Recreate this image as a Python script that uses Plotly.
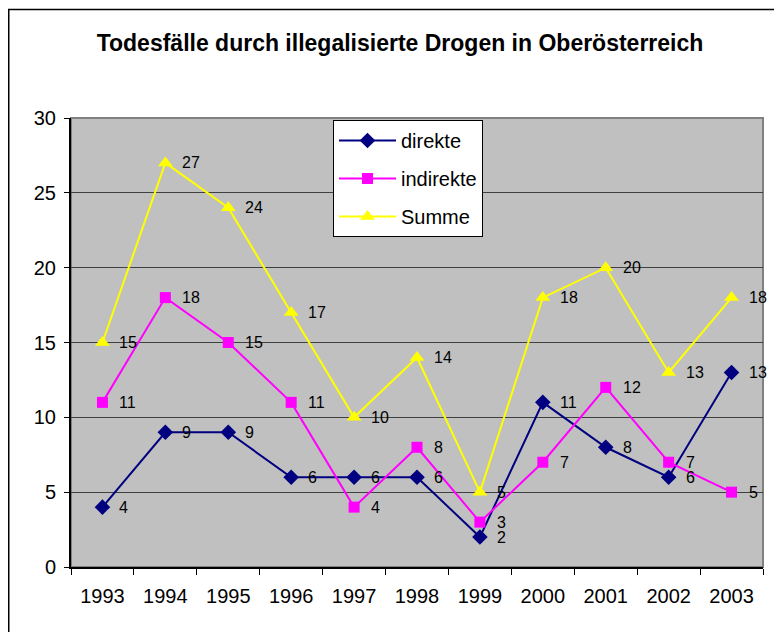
import plotly.graph_objects as go

years = ["1993", "1994", "1995", "1996", "1997", "1998", "1999", "2000", "2001", "2002", "2003"]
direkte = [4, 9, 9, 6, 6, 6, 2, 11, 8, 6, 13]
indirekte = [11, 18, 15, 11, 4, 8, 3, 7, 12, 7, 5]
summe = [15, 27, 24, 17, 10, 14, 5, 18, 20, 13, 18]

series = [
    ("direkte", direkte, "#000080", "diamond", 12),
    ("indirekte", indirekte, "#FF00FF", "square", 11),
    ("Summe", summe, "#FFFF00", "triangle-up", 13),
]

FONT = "Liberation Sans, Arial, sans-serif"
fig = go.Figure()
annotations = []
for name, vals, color, sym, size in series:
    fig.add_trace(go.Scatter(
        x=years, y=vals, name=name, mode="lines+markers",
        legendgroup=name,
        line=dict(color=color, width=2),
        marker=dict(symbol=sym, size=size, color=color, line=dict(width=0)),
    ))
    for i, v in enumerate(vals):
        annotations.append(dict(
            x=i, y=v, xref="x", yref="y", text=str(v), showarrow=False,
            xanchor="left", yanchor="middle",
            xshift=15, font=dict(family=FONT, size=16, color="black"),
        ))

# page has an 8px body margin; figure coordinates = page coordinates - 8
OFF = 8
W, H = 782 - OFF, 632 - OFF
L = 71 - OFF
T = 118 - OFF
R = W - (763 - OFF)
B = H - (567 - OFF)
pw, ph = W - L - R, H - T - B

def px_x(p):
    return (p - OFF - L) / pw

def px_y(p):
    return (H - B - (p - OFF)) / ph

shapes = [
    dict(type="rect", xref="paper", yref="paper", x0=0, x1=1, y0=0, y1=1,
         line=dict(color="#808080", width=2), layer="below"),
    dict(type="rect", xref="paper", yref="paper",
         x0=px_x(8.75), x1=px_x(800), y0=px_y(650), y1=px_y(9.5),
         line=dict(color="#000000", width=1.5), layer="below"),
]

fig.update_layout(
    width=W, height=H,
    margin=dict(l=L, r=R, t=T, b=B),
    paper_bgcolor="white",
    plot_bgcolor="#C0C0C0",
    font=dict(family=FONT, size=20, color="black"),
    title=dict(text="<b>Todesfälle durch illegalisierte Drogen in Oberösterreich</b>",
               x=(400 - OFF) / W, xanchor="center", y=1 - (43 - OFF) / H, yanchor="middle",
               yref="container", font=dict(family=FONT, size=23, color="black")),
    showlegend=True,
    legend=dict(x=px_x(333), y=px_y(120), xanchor="left", yanchor="top",
                bgcolor="white", bordercolor="black", borderwidth=1,
                font=dict(family=FONT, size=20, color="black"),
                tracegroupgap=9, itemwidth=57),
    annotations=annotations,
    shapes=shapes,
)
fig.update_xaxes(
    type="category", categoryorder="array", categoryarray=years,
    range=[-0.5, 10.5], autorange=False,
    tickson="boundaries", ticks="outside", ticklen=6, tickangle=0,
    tickcolor="black", showline=True, linecolor="black", linewidth=2,
    showgrid=False, tickfont=dict(size=20), ticklabelstandoff=10, automargin=False,
)
fig.update_yaxes(
    range=[0, 30], dtick=5, ticks="outside", ticklen=5, tickcolor="black",
    showline=True, linecolor="black", linewidth=2,
    showgrid=True, gridcolor="#404040", gridwidth=1, zeroline=False,
    tickfont=dict(size=20), ticklabelstandoff=4, automargin=False,
)

fig.write_html("out.html")
